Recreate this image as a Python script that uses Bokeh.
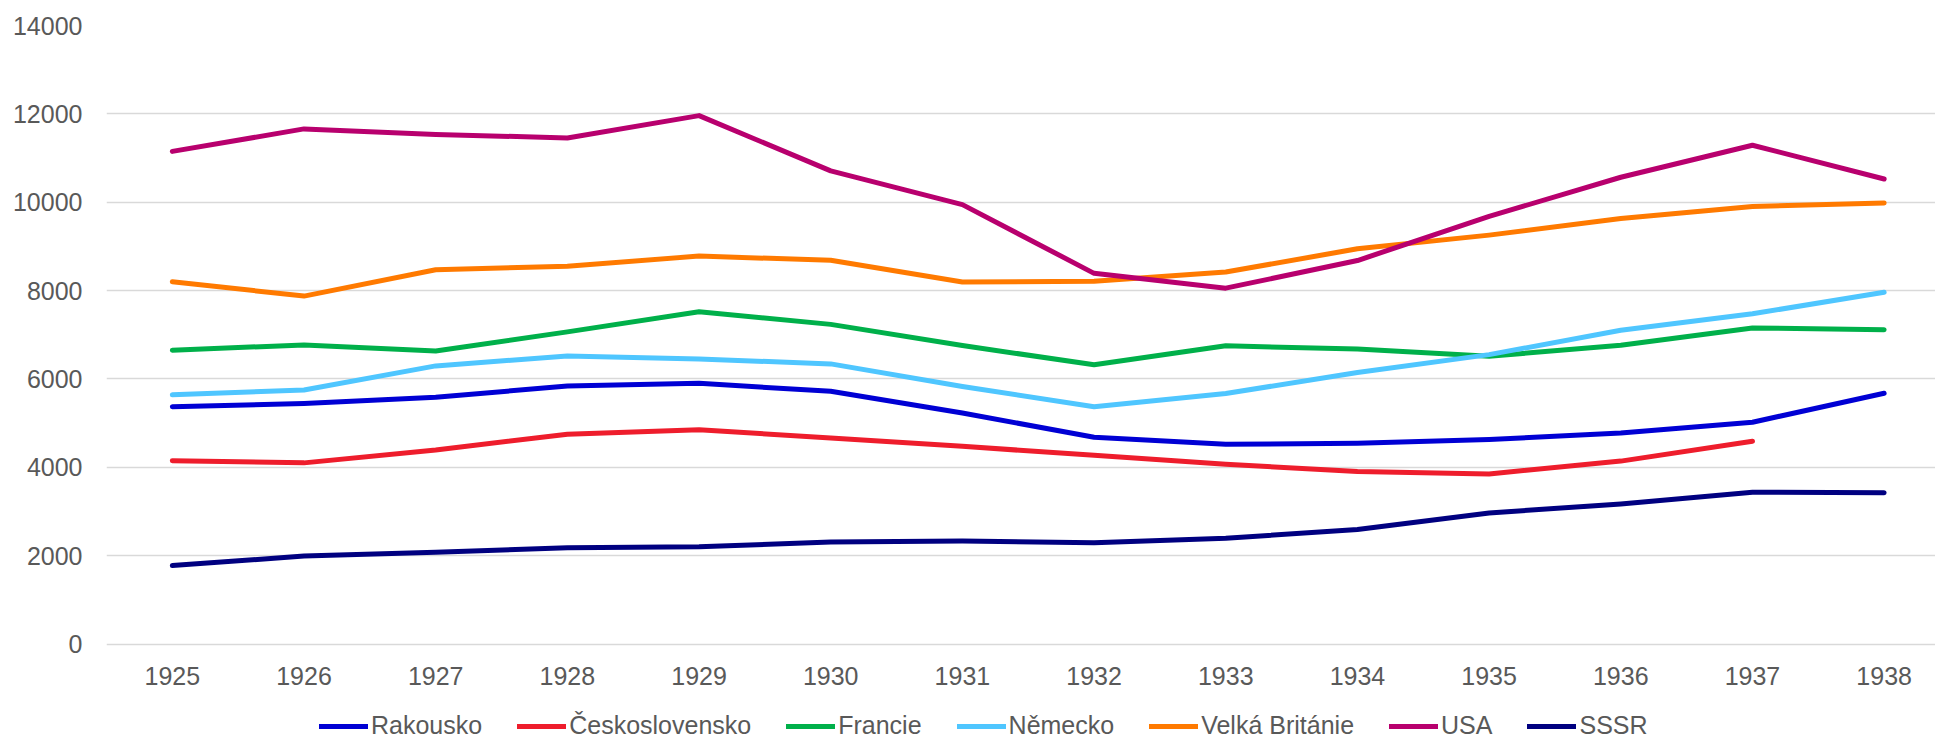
import numpy as np
from bokeh.plotting import figure
from bokeh.models import Legend, LegendItem, FixedTicker, ColumnDataSource
from bokeh.embed import file_html
from bokeh.resources import INLINE

years = [1925, 1926, 1927, 1928, 1929, 1930, 1931, 1932, 1933, 1934, 1935, 1936, 1937, 1938]
y_ticks = [0, 2000, 4000, 6000, 8000, 10000, 12000, 14000]

rakousko = [5370, 5445, 5585, 5840, 5900, 5720, 5230, 4680, 4520, 4545, 4630, 4775, 5020, 5675]
ceskoslovensko = [4150, 4100, 4390, 4750, 4850, 4665, 4475, 4270, 4070, 3905, 3850, 4140, 4590, np.nan]
francie = [6650, 6770, 6630, 7065, 7520, 7235, 6755, 6320, 6750, 6675, 6515, 6760, 7155, 7115]
nemecko = [5640, 5750, 6295, 6520, 6450, 6340, 5830, 5370, 5670, 6145, 6550, 7100, 7475, 7960]
velka_britanie = [8200, 7875, 8470, 8550, 8780, 8685, 8195, 8210, 8420, 8945, 9255, 9630, 9905, 9985]
usa = [11150, 11660, 11535, 11455, 11960, 10710, 9945, 8390, 8055, 8680, 9680, 10565, 11290, 10525]
sssr = [1775, 1990, 2075, 2180, 2200, 2310, 2330, 2290, 2395, 2590, 2965, 3170, 3435, 3425]

series_names = ["Rakousko", "Československo", "Francie", "Německo", "Velká Británie", "USA", "SSSR"]
series_values = [rakousko, ceskoslovensko, francie, nemecko, velka_britanie, usa, sssr]
series_colors = ["#0000D4", "#EE1D2C", "#00B04A", "#4FC6FF", "#FF7A00", "#B8006E", "#000080"]

FONT = "Liberation Sans"
TXT = "#595959"

# layout: frame spans from y=25px to the bottom of the canvas; value 0 sits 95.5px above the bottom
W, H = 1935, 739
TOP, LEFT = 25, 106
ZERO_FROM_BOTTOM = 95.5
y_max = y_ticks[-1]
px_per_unit = (H - TOP - ZERO_FROM_BOTTOM) / y_max
y_min = -ZERO_FROM_BOTTOM / px_per_unit

p = figure(width=W, height=H, output_backend="svg", toolbar_location=None,
           x_range=(1924.5, 1938.39), y_range=(y_min, y_max),
           min_border_left=LEFT, min_border_right=0, min_border_top=TOP, min_border_bottom=0)
p.outline_line_color = None
p.background_fill_color = "white"
p.border_fill_color = "white"

items = []
for name, vals, col in zip(series_names, series_values, series_colors):
    src = ColumnDataSource(dict(x=years, y=vals))
    r = p.line("x", "y", source=src, line_color=col, line_width=5,
               line_cap="round", line_join="round")
    items.append(LegendItem(label=name, renderers=[r]))

p.xgrid.visible = False
p.ygrid.grid_line_color = "#D9D9D9"
p.ygrid.grid_line_width = 1.5
p.ygrid.ticker = FixedTicker(ticks=y_ticks)

for ax in (p.xaxis[0], p.yaxis[0]):
    ax.axis_line_color = None
    ax.major_tick_line_color = None
    ax.minor_tick_line_color = None
    ax.major_tick_out = 0
    ax.major_tick_in = 0
    ax.major_label_text_font = FONT
    ax.major_label_text_font_size = "25px"
    ax.major_label_text_color = TXT

p.xaxis.ticker = FixedTicker(ticks=years)
p.xaxis.major_label_overrides = {y: str(y) for y in years}
p.xaxis.major_label_standoff = 23
p.xaxis.fixed_location = 0

p.yaxis.ticker = FixedTicker(ticks=y_ticks)
p.yaxis.major_label_overrides = {t: str(t) for t in y_ticks}
p.yaxis.major_label_standoff = 24

legend = Legend(items=items, orientation="horizontal", location=(213, -1),
                glyph_width=49, glyph_height=20, label_standoff=3, spacing=35,
                padding=0, margin=0, border_line_color=None, background_fill_alpha=0,
                label_text_font=FONT, label_text_font_size="25px", label_text_color=TXT)
p.add_layout(legend, "center")

open("out.html", "w").write(file_html(p, INLINE))
